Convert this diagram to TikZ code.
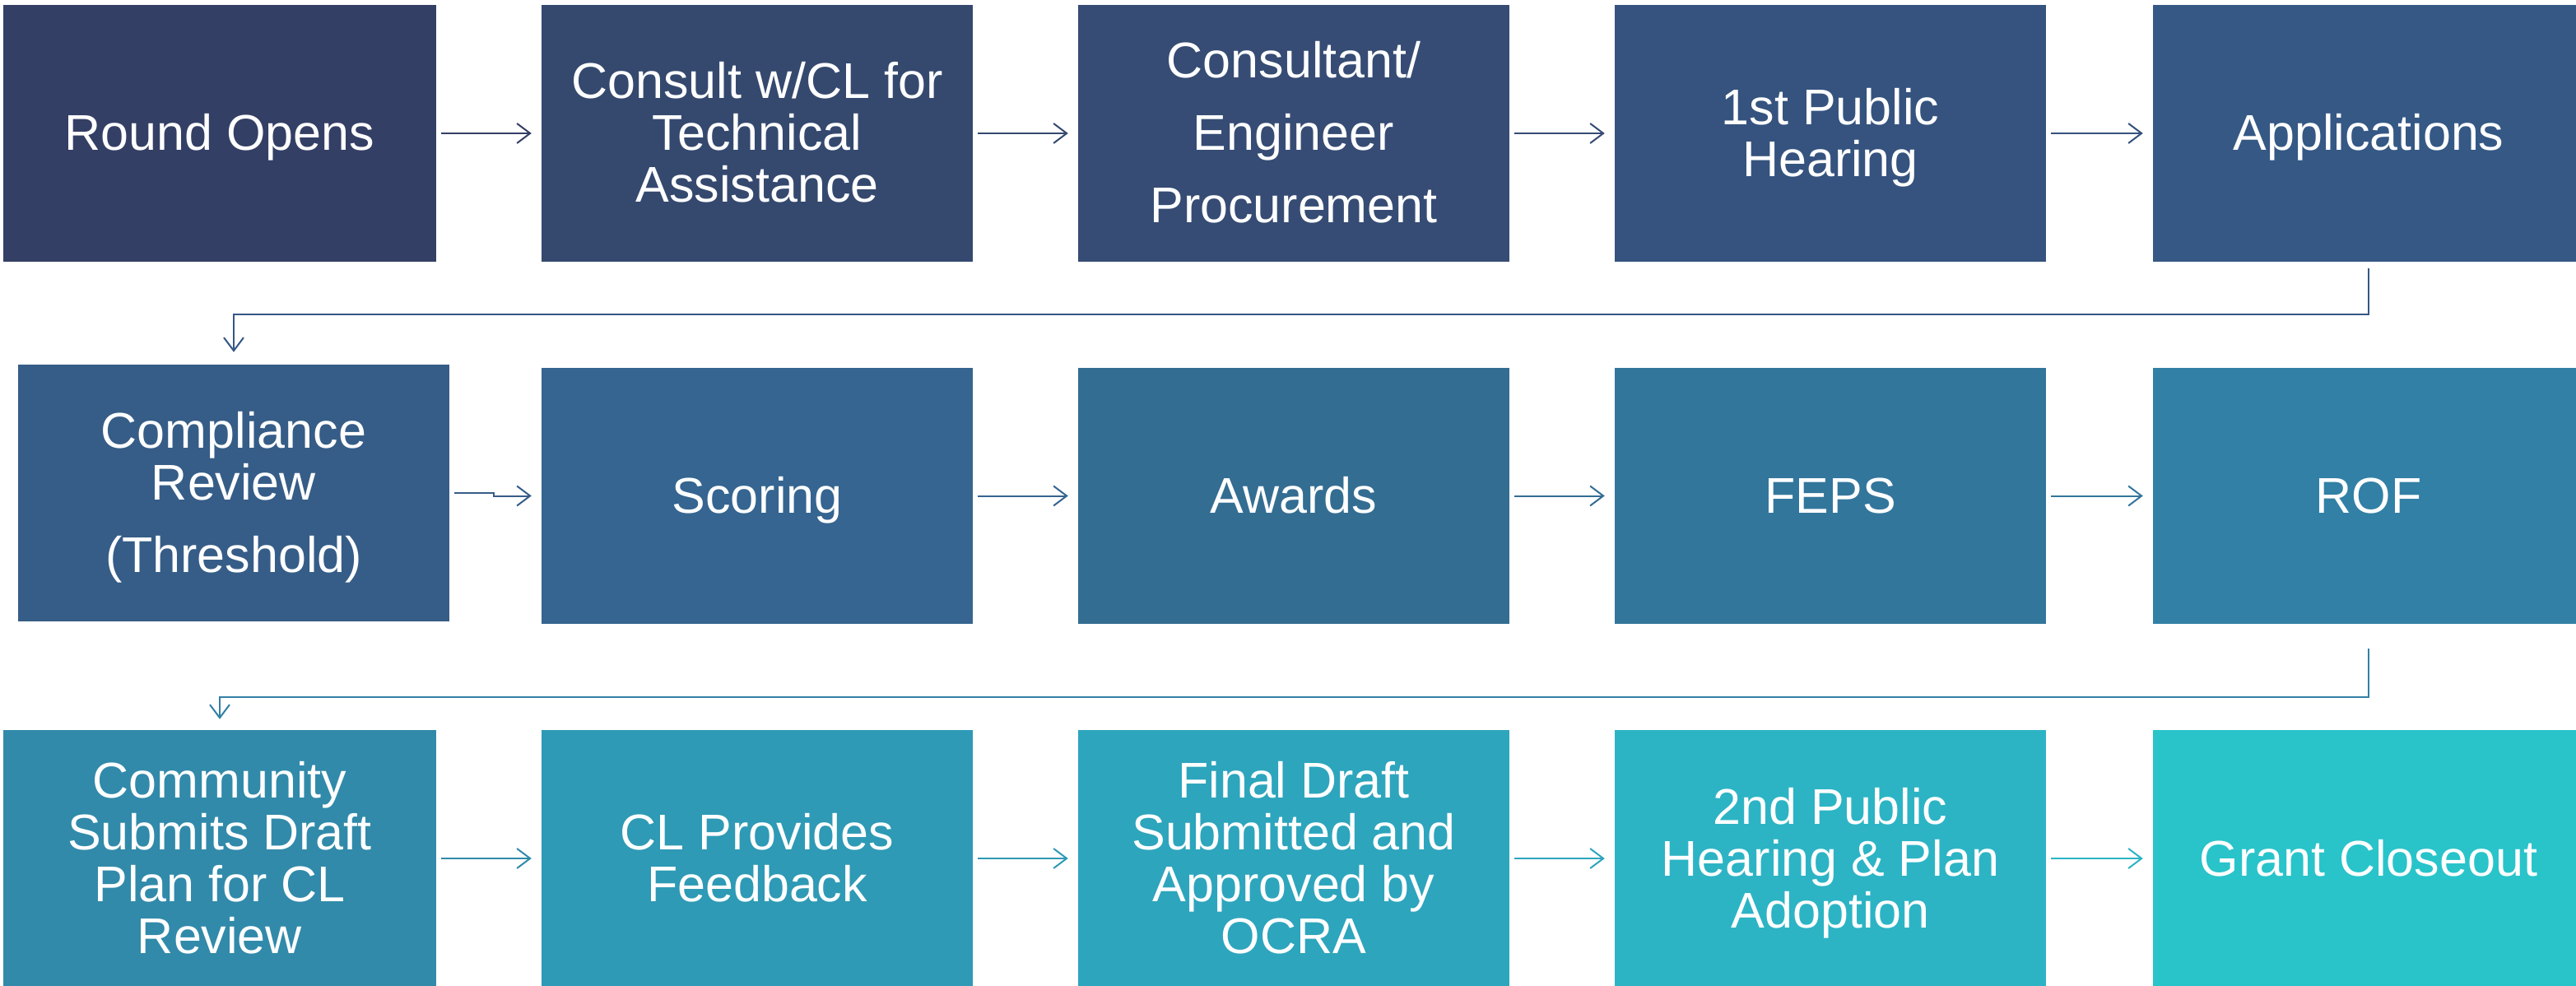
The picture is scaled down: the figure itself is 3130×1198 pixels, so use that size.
\documentclass[tikz,border=0pt]{standalone}
\usepackage{fontspec}
\setmainfont{Liberation Sans}
\usetikzlibrary{arrows.meta}
\definecolor{c1}{HTML}{343F65}
\definecolor{c2}{HTML}{35496F}
\definecolor{c3}{HTML}{364C74}
\definecolor{c4}{HTML}{35537E}
\definecolor{c5}{HTML}{355885}
\definecolor{c6}{HTML}{365D87}
\definecolor{c7}{HTML}{356590}
\definecolor{c8}{HTML}{346D92}
\definecolor{c9}{HTML}{33769C}
\definecolor{c10}{HTML}{3280A5}
\definecolor{c11}{HTML}{318AAA}
\definecolor{c12}{HTML}{2E9AB5}
\definecolor{c13}{HTML}{2DA5BD}
\definecolor{c14}{HTML}{2CB4C5}
\definecolor{c15}{HTML}{28C4CA}
\newcommand\ftop{\rule{0pt}{55pt}}
\newcommand\fbot{\rule[-13pt]{0pt}{13pt}}
\newcommand\fone{\rule[-13pt]{0pt}{68pt}}
\tikzset{
  stepbox/.style={rectangle, inner sep=0pt, minimum width=524pt, minimum height=312pt,
    text=white, align=center, font=\fontsize{61}{63}\selectfont},
  arr/.style={line width=2pt, -{Straight Barb[length=16pt,width=24pt,line width=2pt]},
    shorten <=6pt, shorten >=12pt},
  elb/.style={line width=2pt, -{Straight Barb[length=16pt,width=24pt,line width=2pt]}}
}
\begin{document}
\begin{tikzpicture}[x=1pt,y=-1pt]
\useasboundingbox (0,0) rectangle (3130,1198);
% row 1
\node[stepbox, fill=c1, minimum width=526pt] (n1) at (267,162) {\fone Round Opens};
\node[stepbox, fill=c2] (n2) at (920,162) {\ftop Consult w/CL for\\Technical\\Assistance\fbot};
\node[stepbox, fill=c3] (n3) at (1572,162) {\ftop Consultant/\\[25pt]Engineer\\[25pt]Procurement\fbot};
\node[stepbox, fill=c4] (n4) at (2224,162) {\ftop 1st Public\\Hearing\fbot};
\node[stepbox, fill=c5] (n5) at (2878,162) {\fone Applications};
% row 2
\node[stepbox, fill=c6] (n6) at (284,599) {\ftop Compliance\\Review\\[25pt](Threshold)\fbot};
\node[stepbox, fill=c7, minimum height=311pt] (n7) at (920,602.5) {\fone Scoring};
\node[stepbox, fill=c8, minimum height=311pt] (n8) at (1572,602.5) {\fone Awards};
\node[stepbox, fill=c9, minimum height=311pt] (n9) at (2224,602.5) {\fone FEPS};
\node[stepbox, fill=c10, minimum height=311pt] (n10) at (2878,602.5) {\fone ROF};
% row 3
\node[stepbox, fill=c11, minimum width=526pt] (n11) at (267,1043) {\ftop Community\\Submits Draft\\Plan for CL\\Review\fbot};
\node[stepbox, fill=c12] (n12) at (920,1043) {\ftop CL Provides\\Feedback\fbot};
\node[stepbox, fill=c13] (n13) at (1572,1043) {\ftop Final Draft\\Submitted and\\Approved by\\OCRA\fbot};
\node[stepbox, fill=c14] (n14) at (2224,1043) {\ftop 2nd Public\\Hearing \& Plan\\Adoption\fbot};
\node[stepbox, fill=c15] (n15) at (2878,1043) {\fone Grant Closeout};
% row 1 connectors
\draw[arr, draw=c1] (n1) -- (n2);
\draw[arr, draw=c2] (n2) -- (n3);
\draw[arr, draw=c3] (n3) -- (n4);
\draw[arr, draw=c4] (n4) -- (n5);
% elbow 1
\draw[elb, draw=c5, shorten >=15pt] ([yshift=-8pt]n5.south) -- ++(0,56) -| (n6.north);
% row 2 connectors
\draw[arr, draw=c6] (n6.east) -- ++(54,0) |- (n7.west);
\draw[arr, draw=c7] (n7) -- (n8);
\draw[arr, draw=c8] (n8) -- (n9);
\draw[arr, draw=c9] (n9) -- (n10);
% elbow 2
\draw[elb, draw=c10, shorten >=13pt] ([yshift=-30pt]n10.south) -- ++(0,59) -| (n11.north);
% row 3 connectors
\draw[arr, draw=c11] (n11) -- (n12);
\draw[arr, draw=c12] (n12) -- (n13);
\draw[arr, draw=c13] (n13) -- (n14);
\draw[arr, draw=c14] (n14) -- (n15);
\end{tikzpicture}
\end{document}
